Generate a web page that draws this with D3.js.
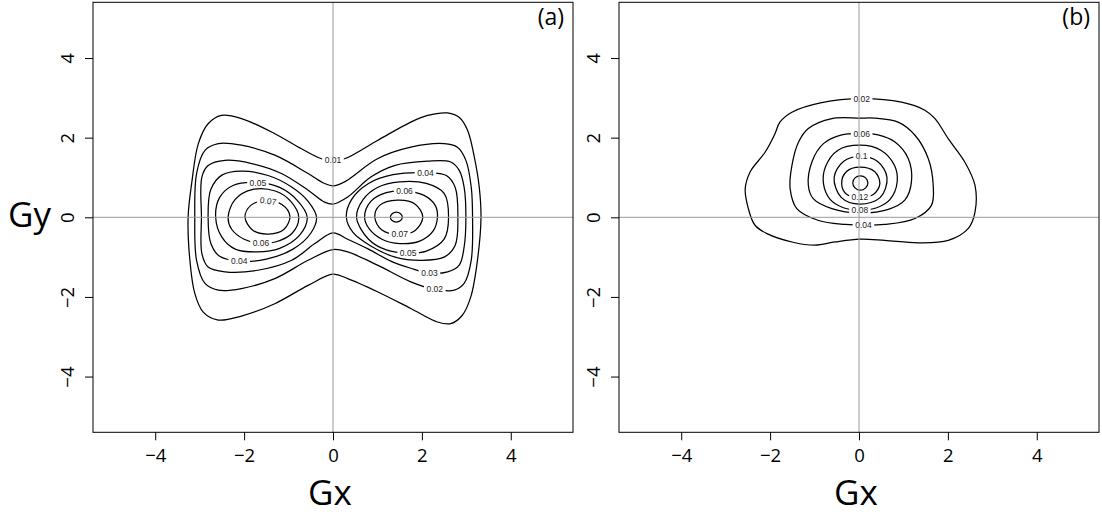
<!DOCTYPE html>
<html>
<head>
<meta charset="utf-8">
<script src="https://cdn.jsdelivr.net/npm/d3@7"></script>
<style>
  body { margin: 0; background: #fff; }
  svg { display: block; }
</style>
</head>
<body>
<svg id="chart" width="1102" height="515"></svg>
<script>
// ---- axis settings ----
const axisTicks = [-4, -2, 0, 2, 4];
const axisDomain = [-5.4, 5.4];
const xTitle = "Gx";
const yTitle = "Gy";

// ---- panel (a): density contours, each ring is a closed list of [Gx, Gy] ----
const a001 = [[-3.26,0],[-3.18,0.85],[-3.03,1.85],[-2.81,2.35],[-2.51,2.56],[-2.06,2.48],[-1.31,2.10],[-0.71,1.72],[-0.26,1.47],[0,1.44],[0.26,1.47],[1.0,1.93],[1.75,2.39],[2.13,2.56],[2.58,2.62],[2.85,2.5],[3.03,2.18],[3.18,1.51],[3.29,0.76],[3.33,0],[3.25,-1.08],[3.10,-2.0],[2.91,-2.46],[2.65,-2.67],[2.35,-2.63],[1.75,-2.29],[1.0,-1.87],[0.33,-1.54],[0,-1.43],[-0.56,-1.71],[-1.31,-2.17],[-2.06,-2.48],[-2.58,-2.58],[-2.92,-2.38],[-3.11,-1.91],[-3.22,-1.08]];
const a002 = [[-3.11,0],[-3.07,1.10],[-2.88,1.68],[-2.58,1.85],[-2.06,1.81],[-1.31,1.56],[-0.56,1.10],[-0.19,0.85],[0,0.79],[0.26,0.89],[1.0,1.47],[1.75,1.76],[2.5,1.85],[2.80,1.76],[2.99,1.43],[3.11,0.76],[3.14,0],[3.11,-1.08],[2.95,-1.66],[2.73,-1.83],[2.29,-1.81],[1.75,-1.62],[1.0,-1.20],[0.33,-0.87],[0,-0.81],[-0.56,-1.08],[-1.31,-1.54],[-2.06,-1.79],[-2.58,-1.83],[-2.88,-1.66],[-3.07,-1.08]];
const a003 = [[-2.96,0],[-2.95,1.01],[-2.81,1.30],[-2.43,1.43],[-1.83,1.35],[-1.16,1.10],[-0.56,0.68],[-0.19,0.38],[0,0.33],[0.33,0.51],[0.85,1.01],[1.38,1.30],[2.13,1.41],[2.65,1.39],[2.84,1.18],[2.95,0.76],[2.99,0],[2.95,-0.75],[2.84,-1.20],[2.58,-1.37],[2.17,-1.40],[1.75,-1.28],[1.3,-1.1],[0.8,-0.8],[0.33,-0.55],[0,-0.39],[-0.41,-0.66],[-0.93,-1.08],[-1.69,-1.33],[-2.43,-1.37],[-2.81,-1.25],[-2.95,-0.91]];
const a004L = [[-2.81,0],[-2.75,0.7],[-2.5,1.06],[-2.06,1.16],[-1.46,1.05],[-0.93,0.76],[-0.56,0.40],[-0.37,0],[-0.5,-0.4],[-0.9,-0.8],[-1.5,-1.05],[-2.11,-1.10],[-2.55,-0.98],[-2.75,-0.65]];
const a005L = [[-2.64,0],[-2.55,0.5],[-2.25,0.8],[-1.69,0.87],[-1.2,0.75],[-0.8,0.42],[-0.58,0],[-0.75,-0.45],[-1.2,-0.78],[-1.7,-0.87],[-2.2,-0.8],[-2.5,-0.5]];
const a006L = [[-2.36,0],[-2.2,0.45],[-1.8,0.7],[-1.3,0.66],[-0.95,0.4],[-0.77,0],[-0.92,-0.4],[-1.3,-0.62],[-1.62,-0.65],[-2.0,-0.55],[-2.28,-0.3]];
const a007L = [[-1.98,0],[-1.85,0.3],[-1.5,0.42],[-1.15,0.32],[-0.97,0.03],[-1.1,-0.3],[-1.45,-0.42],[-1.8,-0.33]];
const a004R = [[0.30,0],[0.42,0.45],[0.8,0.85],[1.35,1.07],[2.08,1.12],[2.55,1.05],[2.75,0.75],[2.81,0],[2.75,-0.7],[2.5,-1.0],[2.0,-1.08],[1.4,-1.0],[0.85,-0.72],[0.45,-0.38]];
const a005R = [[0.53,0],[0.68,0.45],[1.0,0.75],[1.5,0.89],[2.1,0.85],[2.5,0.6],[2.6,0],[2.5,-0.55],[2.1,-0.85],[1.69,-0.90],[1.2,-0.82],[0.8,-0.55]];
const a006R = [[0.71,0],[0.85,0.4],[1.2,0.62],[1.61,0.66],[2.05,0.55],[2.3,0.3],[2.35,0],[2.25,-0.35],[1.95,-0.6],[1.5,-0.66],[1.1,-0.55],[0.82,-0.3]];
const a007R = [[0.94,0],[1.05,0.3],[1.45,0.43],[1.85,0.33],[2.02,0],[1.85,-0.33],[1.5,-0.43],[1.1,-0.32]];
const a008R = [[1.29,0],[1.33,0.09],[1.42,0.13],[1.52,0.09],[1.56,0],[1.52,-0.08],[1.42,-0.12],[1.33,-0.08]];

// contour labels: [level text, Gx, Gy, angle in degrees]
const labelsA = [
  ["0.01", 0.0, 1.44, 0],
  ["0.05", -1.69, 0.87, 0],
  ["0.07", -1.46, 0.41, 8],
  ["0.06", -1.62, -0.65, 0],
  ["0.04", -2.11, -1.10, 0],
  ["0.04", 2.08, 1.12, 0],
  ["0.06", 1.61, 0.66, 0],
  ["0.07", 1.50, -0.43, 0],
  ["0.05", 1.69, -0.90, 0],
  ["0.03", 2.17, -1.40, 0],
  ["0.02", 2.29, -1.81, 0]
];

// ---- panel (b) ----
const b002 = [[0.06,2.98],[0.96,2.89],[1.48,2.69],[1.71,2.48],[2.01,1.97],[2.38,1.39],[2.61,0.80],[2.61,0.13],[2.46,-0.28],[2.01,-0.58],[1.33,-0.64],[0.58,-0.58],[0.02,-0.55],[-0.54,-0.62],[-0.99,-0.70],[-1.51,-0.62],[-2.07,-0.41],[-2.34,-0.20],[-2.49,0.22],[-2.56,0.72],[-2.45,1.14],[-2.11,1.64],[-1.89,2.10],[-1.78,2.39],[-1.51,2.64],[-0.84,2.88]];
const b004 = [[0.02,2.49],[0.36,2.49],[0.88,2.39],[1.26,2.06],[1.56,1.47],[1.67,0.80],[1.63,0.30],[1.26,-0.03],[0.58,-0.18],[0.10,-0.20],[-0.31,-0.18],[-0.91,-0.08],[-1.40,0.22],[-1.55,0.72],[-1.51,1.30],[-1.36,1.89],[-1.14,2.23],[-0.61,2.48]];
const b006 = [[0.06,2.10],[0.43,2.07],[0.81,1.89],[1.11,1.47],[1.18,0.89],[1.03,0.43],[0.66,0.20],[0.02,0.11],[-0.61,0.22],[-1.03,0.47],[-1.14,0.80],[-1.06,1.39],[-0.80,1.85],[-0.39,2.07]];
const b008 = [[0.02,1.81],[0.5,1.68],[0.8,1.3],[0.86,0.9],[0.7,0.45],[0.4,0.24],[0.02,0.18],[-0.35,0.24],[-0.65,0.45],[-0.8,0.85],[-0.75,1.28],[-0.48,1.68]];
const b010 = [[0.02,1.53],[0.42,1.4],[0.63,1.0],[0.48,0.5],[0.02,0.33],[-0.4,0.5],[-0.56,1.0],[-0.35,1.4]];
const b012 = [[0.02,1.26],[0.35,1.15],[0.47,0.85],[0.33,0.58],[0.02,0.51],[-0.28,0.58],[-0.39,0.85],[-0.28,1.15]];
const b014 = [[0.03,1.04],[0.15,0.99],[0.2,0.86],[0.15,0.74],[0.03,0.68],[-0.09,0.74],[-0.14,0.86],[-0.09,0.99]];

const labelsB = [
  ["0.02", 0.06, 2.98, 0],
  ["0.06", 0.06, 2.10, 0],
  ["0.1", 0.06, 1.53, 0],
  ["0.12", 0.02, 0.51, 0],
  ["0.08", 0.02, 0.18, 0],
  ["0.04", 0.10, -0.20, 0]
];

const panels = [
  { tag: "(a)", left: 93, rings: [a001, a002, a003, a004L, a005L, a006L, a007L, a004R, a005R, a006R, a007R, a008R], labels: labelsA, yTitle: true },
  { tag: "(b)", left: 619, rings: [b002, b004, b006, b008, b010, b012, b014], labels: labelsB, yTitle: false }
];

// ---- layout ----
const svg = d3.select("#chart");
const plotW = 480, plotTop = 2.3, plotBottom = 432.3;
const tickFont = "'Open Sans', 'DejaVu Sans', sans-serif";

panels.forEach((p, i) => {
  const x = d3.scaleLinear().domain(axisDomain).range([p.left, p.left + plotW]);
  const y = d3.scaleLinear().domain(axisDomain).range([plotBottom, plotTop]);
  const g = svg.append("g");

  const clipId = "clip" + i;
  svg.append("clipPath").attr("id", clipId)
    .append("rect").attr("x", p.left).attr("y", plotTop).attr("width", plotW).attr("height", plotBottom - plotTop);

  const line = d3.line()
    .x(d => x(d[0])).y(d => y(d[1]))
    .curve(d3.curveCatmullRomClosed.alpha(0.5));

  const plot = g.append("g").attr("clip-path", `url(#${clipId})`);

  plot.selectAll("path.contour").data(p.rings).join("path")
    .attr("class", "contour")
    .attr("d", line)
    .attr("fill", "none")
    .attr("stroke", "#000")
    .attr("stroke-width", 1.25);

  // labels sit in small gaps cut out of their contour
  const lab = plot.selectAll("g.lab").data(p.labels).join("g")
    .attr("class", "lab")
    .attr("transform", d => `translate(${x(d[1])},${y(d[2])}) rotate(${d[3]})`);
  lab.append("rect").attr("fill", "#fff");
  lab.append("text")
    .attr("text-anchor", "middle")
    .attr("dy", "0.35em")
    .attr("font-family", "'Liberation Sans', Arial, sans-serif")
    .attr("font-size", 8.5)
    .attr("fill", "#222")
    .text(d => d[0]);
  lab.each(function () {
    const t = d3.select(this).select("text").node();
    const w = t.getComputedTextLength();
    d3.select(this).select("rect")
      .attr("x", -w / 2 - 2.5).attr("y", -4).attr("width", w + 5).attr("height", 8);
  });

  // reference lines through the origin
  plot.append("line")
    .attr("x1", x(0)).attr("x2", x(0)).attr("y1", plotTop).attr("y2", plotBottom)
    .attr("stroke", "#9a9a9a").attr("stroke-width", 1);
  plot.append("line")
    .attr("x1", p.left).attr("x2", p.left + plotW).attr("y1", y(0)).attr("y2", y(0))
    .attr("stroke", "#9a9a9a").attr("stroke-width", 1);

  // frame
  g.append("rect")
    .attr("x", p.left).attr("y", plotTop).attr("width", plotW).attr("height", plotBottom - plotTop)
    .attr("fill", "none").attr("stroke", "#000").attr("stroke-width", 1);

  // x axis
  const xa = g.append("g").attr("transform", `translate(0,${plotBottom})`)
    .call(d3.axisBottom(x).tickValues(axisTicks).tickSize(8).tickPadding(9));
  xa.select(".domain").remove();
  xa.selectAll("line").attr("stroke", "#000");
  xa.selectAll("text")
    .attr("font-family", tickFont).attr("font-size", 18.5).attr("fill", "#000");

  // y axis with labels running along the axis
  const ya = g.append("g").attr("transform", `translate(${p.left},0)`)
    .call(d3.axisLeft(y).tickValues(axisTicks).tickSize(8));
  ya.select(".domain").remove();
  ya.selectAll("line").attr("stroke", "#000");
  ya.selectAll("text")
    .attr("x", null).attr("dy", null)
    .attr("text-anchor", "middle")
    .attr("transform", "translate(-19,0) rotate(-90)")
    .attr("font-family", tickFont).attr("font-size", 18.5).attr("fill", "#000");

  // titles
  g.append("text")
    .attr("x", p.left + plotW / 2 - 3).attr("y", 505)
    .attr("text-anchor", "middle")
    .attr("font-family", tickFont).attr("font-size", 35).attr("fill", "#000")
    .text(xTitle);
  if (p.yTitle) {
    g.append("text")
      .attr("x", 51).attr("y", 227)
      .attr("text-anchor", "end")
      .attr("font-family", tickFont).attr("font-size", 35).attr("fill", "#000")
      .text(yTitle);
  }
  g.append("text")
    .attr("x", p.left + plotW - 9).attr("y", 25)
    .attr("text-anchor", "end")
    .attr("font-family", tickFont).attr("font-size", 23).attr("fill", "#000")
    .text(p.tag);
});
</script>
</body>
</html>
